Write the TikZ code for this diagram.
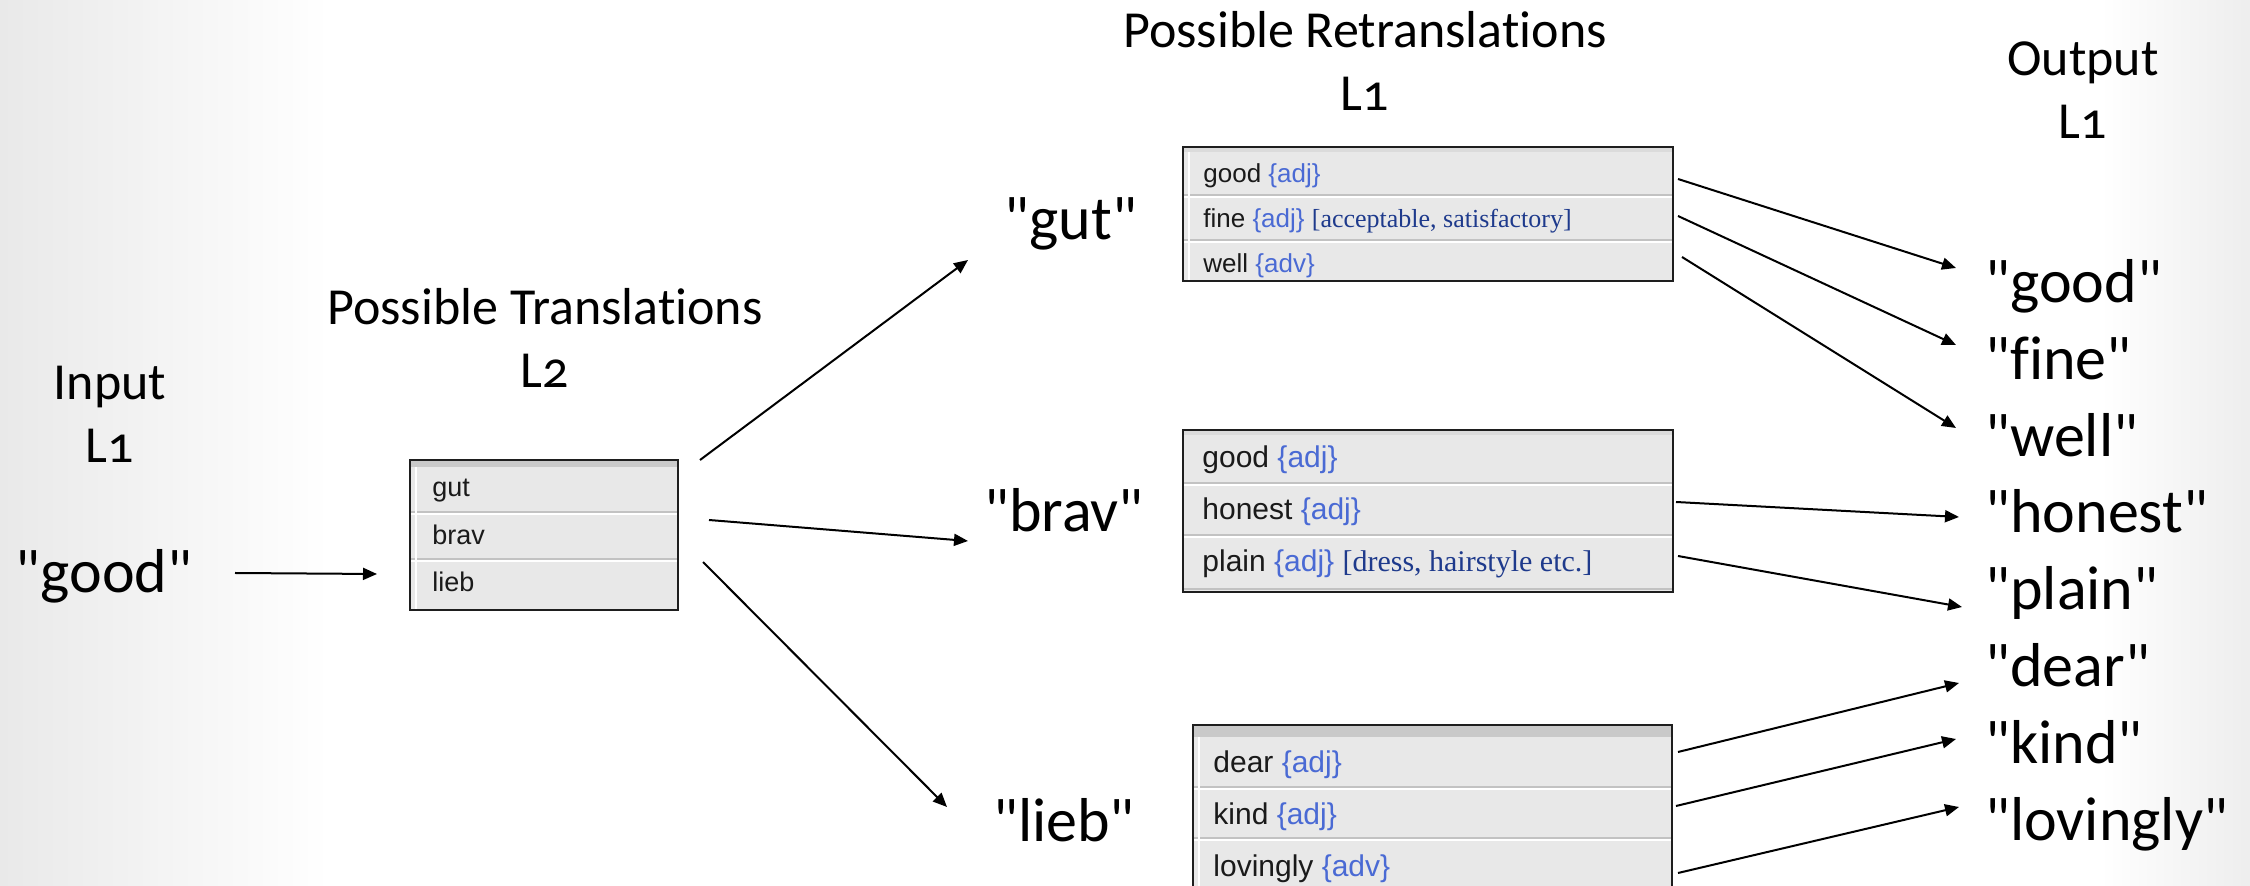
\documentclass[tikz,border=0pt]{standalone}
\usepackage{fontspec}
\setmainfont{Carlito}[Numbers=OldStyle,Ligatures={TeXOff,NoCommon}]
\newfontfamily\arialf{Liberation Sans}
\newfontfamily\timesf{Liberation Serif}
\usetikzlibrary{arrows.meta,calc}
\definecolor{tfill}{HTML}{E8E8E8}
\definecolor{tborder}{HTML}{1E1E1E}
\definecolor{hdrgray}{HTML}{C9C9C9}
\definecolor{sepgray}{HTML}{C2C2C2}
\definecolor{tword}{HTML}{1A1A1A}
\definecolor{adjblue}{HTML}{4A6AD4}
\definecolor{brknavy}{HTML}{1E3A8C}
\definecolor{edgegray}{HTML}{E9E9E9}
\newcommand\tagpos[1]{\textcolor{adjblue}{\{#1\}}}
\newcommand\notebr[1]{{\timesf\textcolor{brknavy}{[#1]}}}
\begin{document}
\begin{tikzpicture}[x=0.5pt,y=-0.5pt,
  hdr/.style={font=\fontsize{26}{30}\selectfont, inner sep=0pt, anchor=base},
  word/.style={font=\fontsize{31}{36}\selectfont, inner sep=0pt},
  arr/.style={-{Triangle[length=7pt,width=6pt]}, line width=1pt},
  tbl/.style={draw=tborder, line width=1pt, fill=tfill, inner sep=0pt, rectangle},
  cell/.style={anchor=base west, inner sep=0pt, text=tword},
  sep/.style={sepgray, line width=1pt},
  hil/.style={white, line width=0.6pt}]
\useasboundingbox (0,0) rectangle (2250,886);
\clip (0,0) rectangle (2250,886);
\fill[white] (0,0) rectangle (2250,886);
\shade[left color=edgegray, right color=white] (0,0) rectangle (330,886);
\shade[left color=white, right color=edgegray!80] (2100,0) rectangle (2250,886);

% headers
\node[hdr] (hin) at (110,400) {Input};
\node[hdr] (hinl) at (110,463) {L1};
\node[hdr] (htr) at (545,325) {Possible Translations};
\node[hdr] (htrl) at (545,388) {L2};
\node[hdr] (hre) at (1365,48) {Possible Retranslations};
\node[hdr] (hrel) at (1365,111) {L1};
\node[hdr] (hout) at (2083,76) {Output};
\node[hdr] (houtl) at (2083,139) {L1};

% input word
\node[word, anchor=base] (in) at (104,593) {"good"};

% table 1
\node[tbl, minimum width=134pt, minimum height=75pt] (t1) at (544,535) {};
\fill[hdrgray] (411,461) rectangle (677,467);
\draw[sep] (411,512) -- (677,512); \draw[hil] (411,514) -- (677,514);
\draw[sep] (411,559) -- (677,559); \draw[hil] (411,561) -- (677,561);
\draw[white, line width=0.8pt] (416,467) -- (416,609);
\begin{scope}[every node/.style={cell, font=\arialf\fontsize{13.5}{16}\selectfont}]
\node (t1a) at (432,497) {gut};
\node (t1b) at (432,545) {brav};
\node (t1c) at (432,592) {lieb};
\end{scope}

% L2 words
\node[word, anchor=base] (wgut) at (1071,240) {"gut"};
\node[word, anchor=base] (wbrav) at (1064,532) {"brav"};
\node[word, anchor=base] (wlieb) at (1064,842) {"lieb"};

% table 2
\node[tbl, minimum width=245pt, minimum height=67pt] (t2) at (1428,214) {};
\fill[black!14] (1184,148) rectangle (1672,152);
\draw[sep] (1184,195) -- (1672,195); \draw[hil] (1184,197) -- (1672,197);
\draw[sep] (1184,240) -- (1672,240); \draw[hil] (1184,242) -- (1672,242);
\draw[white, line width=0.8pt] (1189,152) -- (1189,280);
\begin{scope}[every node/.style={cell, font=\arialf\fontsize{13}{15}\selectfont}]
\node (t2a) at (1203,183) {good \tagpos{adj}};
\node (t2b) at (1203,228) {fine \tagpos{adj} \notebr{acceptable, satisfactory}};
\node (t2c) at (1203,273) {well \tagpos{adv}};
\end{scope}

% table 3
\node[tbl, minimum width=245pt, minimum height=81pt] (t3) at (1428,511) {};
\fill[black!14] (1184,431) rectangle (1672,435);
\draw[sep] (1184,483) -- (1672,483); \draw[hil] (1184,485) -- (1672,485);
\draw[sep] (1184,535) -- (1672,535); \draw[hil] (1184,537) -- (1672,537);
\draw[sep] (1184,589) -- (1672,589);
\begin{scope}[every node/.style={cell, font=\arialf\fontsize{15}{18}\selectfont}]
\node (t3a) at (1202,468) {good \tagpos{adj}};
\node (t3b) at (1202,520) {honest \tagpos{adj}};
\node (t3c) at (1202,572) {plain \tagpos{adj} \notebr{dress, hairstyle etc.}};
\end{scope}

% table 4
\node[tbl, minimum width=239.5pt, minimum height=87.5pt] (t4) at (1432.5,812.5) {};
\fill[hdrgray] (1194,726) rectangle (1671,737);
\draw[sep] (1194,787) -- (1671,787); \draw[hil] (1194,789) -- (1671,789);
\draw[sep] (1194,838) -- (1671,838); \draw[hil] (1194,840) -- (1671,840);
\draw[white, line width=0.8pt] (1199,737) -- (1199,886);
\begin{scope}[every node/.style={cell, font=\arialf\fontsize{15}{18}\selectfont}]
\node (t4a) at (1213,773) {dear \tagpos{adj}};
\node (t4b) at (1213,825) {kind \tagpos{adj}};
\node (t4c) at (1213,877) {lovingly \tagpos{adv}};
\end{scope}

% output words
\begin{scope}[every node/.style={word, anchor=base west}]
\node (o1) at (1985,303) {"good"};
\node (o2) at (1985,380) {"fine"};
\node (o3) at (1985,457) {"well"};
\node (o4) at (1985,533) {"honest"};
\node (o5) at (1985,610) {"plain"};
\node (o6) at (1985,687) {"dear"};
\node (o7) at (1985,764) {"kind"};
\node (o8) at (1985,841) {"lovingly"};
\end{scope}

% connectors
\draw[arr] ($(in.base)+(131,-20)$) -- ($(t1.south west)+(-32,-37)$);
\draw[arr] ($(t1.north east)+(21,1)$) -- ($(wgut.base)+(-103,20)$);
\draw[arr] ($(t1.north east)+(30,61)$) -- ($(wbrav.base)+(-96,9)$);
\draw[arr] ($(t1.north east)+(24,103)$) -- ($(wlieb.base)+(-117,-35)$);

\draw[arr] ($(t2.north east)+(4,33)$) -- ($(o1.base west)+(-29,-35)$);
\draw[arr] ($(t2.north east)+(4,70)$) -- ($(o2.base west)+(-29,-35)$);
\draw[arr] ($(t2.north east)+(8,111)$) -- ($(o3.base west)+(-29,-29)$);
\draw[arr] ($(t3.north east)+(2,73)$) -- ($(o4.base west)+(-26,-16)$);
\draw[arr] ($(t3.north east)+(4,127)$) -- ($(o5.base west)+(-23,-3)$);
\draw[arr] ($(t4.north east)+(5,28)$) -- ($(o6.base west)+(-26,-4)$);
\draw[arr] ($(t4.north east)+(3,82)$) -- ($(o7.base west)+(-29,-25)$);
\draw[arr] ($(t4.north east)+(5,149)$) -- ($(o8.base west)+(-26,-34)$);
\end{tikzpicture}
\end{document}
